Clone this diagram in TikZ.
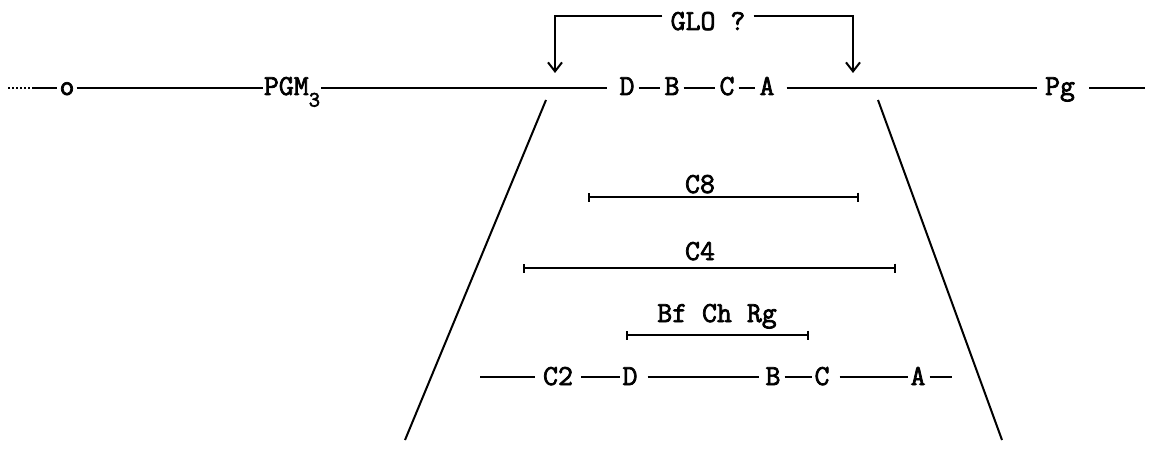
\documentclass[tikz,border=0pt]{standalone}
\usepackage{fontspec}
\newfontfamily\twfont{Latin Modern Mono}[AutoFakeBold=2.5]
\usetikzlibrary{arrows.meta}
\tikzset{
  lbl/.style={font=\fontsize{29}{29}\selectfont\twfont\bfseries, inner sep=0pt, anchor=base},
  ln/.style={line width=2pt},
  bar/.style={line width=2pt, {Bar[width=9pt,line width=2pt]}-{Bar[width=9pt,line width=2pt]}},
  arr/.style={line width=2pt, -{Straight Barb[length=9pt,width=14pt,line width=2pt]}},
}
\begin{document}
\begin{tikzpicture}[x=1pt,y=-1pt]
\useasboundingbox (0,0) rectangle (1155,449);
% main line
\node[lbl] (o) at (67,95) {o};
\node[lbl] (pgm) at (292,95) {PGM\raisebox{-0.4em}{\fontsize{22}{22}\selectfont 3}};
\node[lbl] (d1) at (627,95) {D};
\node[lbl] (b1) at (672,95) {B};
\node[lbl] (c1) at (727,95) {C};
\node[lbl] (a1) at (767,95) {A};
\node[lbl] (pg) at (1060,95) {Pg};
\coordinate (s0) at (8,88);
\coordinate (s1) at (34,88);
\coordinate (e1) at (1145,88);
\draw[ln, dotted] (s0) -- (s1);
\draw[ln] (s1) -- ([xshift=-2pt]o.west |- s1);
\draw[ln] ([xshift=2pt]o.east |- s1) -- ([xshift=-1pt]pgm.west |- s1);
\draw[ln] ([xshift=1pt]pgm.east |- s1) -- ([xshift=-12pt]d1.west |- s1);
\draw[ln] ([xshift=4pt]d1.east |- s1) -- ([xshift=-4pt]b1.west |- s1);
\draw[ln] ([xshift=4pt]b1.east |- s1) -- ([xshift=-4pt]c1.west |- s1);
\draw[ln] ([xshift=4pt]c1.east |- s1) -- ([xshift=-4pt]a1.west |- s1);
\draw[ln] ([xshift=12pt]a1.east |- s1) -- ([xshift=-8pt]pg.west |- s1);
\draw[ln] ([xshift=14pt]pg.east |- s1) -- (e1);
% GLO bracket
\node[lbl] (glo) at (708,30) {GLO ?};
\coordinate (tl) at (555,16);
\coordinate (tr) at (853,16);
\coordinate (al) at (555,73);
\coordinate (ar) at (853,73);
\draw[arr] ([xshift=-8pt]glo.west |- tl) -- (tl) -- (al);
\draw[arr] ([xshift=8pt]glo.east |- tr) -- (tr) -- (ar);
% trapezoid sides
\coordinate (lt) at (546,100);
\coordinate (lb) at (405,440);
\coordinate (rt) at (878,100);
\coordinate (rb) at (1002,440);
\draw[ln] (lt) -- (lb);
\draw[ln] (rt) -- (rb);
% bars
\node[lbl] (c8) at (700,193) {C8};
\coordinate (c8l) at (588,197);
\coordinate (c8r) at (859,197);
\draw[bar] (c8l) -- (c8r);
\node[lbl] (c4) at (700,260) {C4};
\coordinate (c4l) at (523,268);
\coordinate (c4r) at (896,268);
\draw[bar] (c4l) -- (c4r);
\node[lbl] (bcr) at (717,322) {Bf Ch Rg};
\coordinate (bl) at (626,335);
\coordinate (br) at (809,335);
\draw[bar] (bl) -- (br);
% bottom row
\node[lbl] (c2) at (558,385) {C2};
\node[lbl] (d2) at (630,385) {D};
\node[lbl] (b2) at (773,385) {B};
\node[lbl] (c3) at (822,385) {C};
\node[lbl] (a2) at (918,385) {A};
\coordinate (q0) at (480,377);
\coordinate (q1) at (952,377);
\draw[ln] (q0) -- ([xshift=-8pt]c2.west |- q0);
\draw[ln] ([xshift=8pt]c2.east |- q0) -- ([xshift=-2pt]d2.west |- q0);
\draw[ln] ([xshift=10pt]d2.east |- q0) -- ([xshift=-6pt]b2.west |- q0);
\draw[ln] ([xshift=4pt]b2.east |- q0) -- ([xshift=-2pt]c3.west |- q0);
\draw[ln] ([xshift=10pt]c3.east |- q0) -- ([xshift=-2pt]a2.west |- q0);
\draw[ln] ([xshift=4pt]a2.east |- q0) -- (q1);
\end{tikzpicture}
\end{document}
